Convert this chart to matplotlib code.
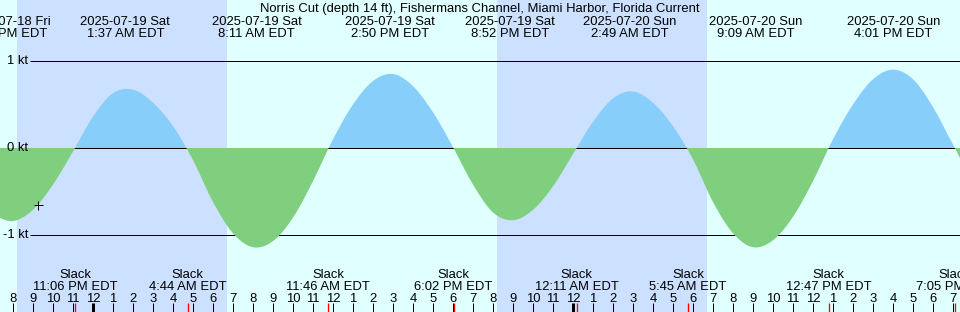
import numpy as np
import matplotlib
matplotlib.use("Agg")
import matplotlib.pyplot as plt
from matplotlib.transforms import blended_transform_factory
from datetime import datetime, timedelta

plt.rcParams['font.family'] = ['Liberation Sans', 'DejaVu Sans']

# ---------------- data ----------------
title = "Norris Cut (depth 14 ft), Fishermans Channel, Miami Harbor, Florida Current"

# hourly current speed readings (kt), first reading at speed_start
speed_start = "2025-07-18 19:00"
speed_kt = [-0.78, -0.84, -0.71, -0.42, -0.04, 0.36, 0.63, 0.67, 0.52, 0.25,
            -0.14, -0.62, -0.98, -1.14, -1.07, -0.80, -0.38, 0.10, 0.50, 0.77,
            0.85, 0.71, 0.41, 0.01, -0.42, -0.74, -0.83, -0.71, -0.44, -0.07,
            0.30, 0.57, 0.65, 0.52, 0.25, -0.13, -0.62, -0.98, -1.14, -1.06,
            -0.79, -0.38, 0.10, 0.50, 0.79, 0.90, 0.79, 0.47, 0.04, -0.35]

max_times = ["2025-07-18 19:46", "2025-07-19 01:37", "2025-07-19 08:11",
             "2025-07-19 14:50", "2025-07-19 20:52", "2025-07-20 02:49",
             "2025-07-20 09:09", "2025-07-20 16:01"]
slack_times = ["2025-07-18 23:06", "2025-07-19 04:44", "2025-07-19 11:46",
               "2025-07-19 18:02", "2025-07-20 00:11", "2025-07-20 05:45",
               "2025-07-20 12:47", "2025-07-20 19:05"]
night_start = ["2025-07-18 20:12", "2025-07-19 20:12"]
night_end = ["2025-07-19 06:42", "2025-07-20 06:42"]

now_time = "2025-07-18 21:15"
now_speed = -0.66

ref_levels = [1, 0, -1]
ref_labels = ["1 kt", "0 kt", "-1 kt"]

first_hour = "2025-07-18 20:00"
n_hours = 48

view_start = "2025-07-18 19:21"
view_end = "2025-07-20 19:21"

# ---------------- style ----------------
DAY = "#e0ffff"
NIGHT = "#cce0ff"
FLOOD = "#87cefa"
EBB = "#7fcf7f"
FS = 9.4
PX = 0.72  # one pixel in points at 100 dpi

fmt = "%Y-%m-%d %H:%M"
T0 = datetime.strptime(first_hour, fmt)


def hrs(s):
    return (datetime.strptime(s, fmt) - T0).total_seconds() / 3600.0


def tstr(s):
    d = datetime.strptime(s, fmt)
    h = d.hour % 12
    if h == 0:
        h = 12
    return "%d:%02d %s EDT" % (h, d.minute, "AM" if d.hour < 12 else "PM")


def dstr(s):
    d = datetime.strptime(s, fmt)
    return d.strftime("%Y-%m-%d %a")


W, H = 960, 312
fig = plt.figure(figsize=(W / 100, H / 100), dpi=100)
ax = fig.add_axes([0, 0, 1, 1])
ax.set_axis_off()
ax.set_xlim(hrs(view_start), hrs(view_end))
y_top, y_bot = (148 - 0) / 87.0, (148 - 312) / 87.0
ax.set_ylim(y_bot, y_top)
fig.patch.set_facecolor(DAY)
ax.set_facecolor(DAY)


def ypx(p):
    # axes fraction for pixel row p from top
    return 1 - p / H


bt = blended_transform_factory(ax.transData, ax.transAxes)

# night shading
for a, b in zip(night_start, night_end):
    ax.axvspan(hrs(a), hrs(b), color=NIGHT, lw=0, zorder=0)

# reference lines and labels
x_line_start = hrs(view_start) + 30 / 20.0
for lev, lab in zip(ref_levels, ref_labels):
    ax.plot([x_line_start, hrs(view_end)], [lev, lev], color="black",
            lw=PX, zorder=1, solid_capstyle="butt")
    ax.text(hrs(view_start) + 28 / 20.0, lev, lab, fontsize=FS,
            ha="right", va="center", zorder=5)

# smooth curve through hourly readings (Catmull-Rom)
t0 = hrs(speed_start)
p = np.array(speed_kt, dtype=float)
tp = t0 + np.arange(len(p))
pp = np.concatenate([[p[0]], p, [p[-1]]])
xs, ys = [], []
s = np.linspace(0, 1, 21)[:-1]
for i in range(len(p) - 1):
    p0, p1, p2, p3 = pp[i], pp[i + 1], pp[i + 2], pp[i + 3]
    y = 0.5 * (2 * p1 + (-p0 + p2) * s + (2 * p0 - 5 * p1 + 4 * p2 - p3) * s ** 2
               + (-p0 + 3 * p1 - 3 * p2 + p3) * s ** 3)
    xs.append(tp[i] + s)
    ys.append(y)
xs.append([tp[-1]])
ys.append([p[-1]])
xs = np.concatenate(xs)
ys = np.concatenate(ys)

ax.fill_between(xs, ys, 0, where=ys >= 0, interpolate=True, color=FLOOD,
                lw=0, zorder=2)
ax.fill_between(xs, ys, 0, where=ys <= 0, interpolate=True, color=EBB,
                lw=0, zorder=2)

# now marker
ax.plot([hrs(now_time)], [now_speed], marker="+", color="black",
        markersize=9 * PX, mew=PX, zorder=6)

# title
ax.text(0.5, ypx(12), title, transform=ax.transAxes, fontsize=FS,
        ha="center", va="baseline", zorder=7)

# max current labels (top)
for m in max_times:
    x = hrs(m)
    ax.text(x, ypx(25), dstr(m), transform=bt, fontsize=FS, ha="center",
            va="baseline", zorder=7)
    ax.text(x, ypx(37), tstr(m), transform=bt, fontsize=FS, ha="center",
            va="baseline", zorder=7)

# slack labels (bottom)
for sl in slack_times:
    x = hrs(sl)
    ax.text(x, ypx(278), "Slack", transform=bt, fontsize=FS, ha="center",
            va="baseline", zorder=7)
    ax.text(x, ypx(290), tstr(sl), transform=bt, fontsize=FS, ha="center",
            va="baseline", zorder=7)
    ax.plot([x, x], [ypx(303), ypx(312)], transform=bt, color="red",
            lw=1.3 * PX, zorder=8, solid_capstyle="butt")

# hour ticks
for k in range(n_hours):
    d = T0 + timedelta(hours=k)
    h = d.hour % 12
    if h == 0:
        h = 12
    x = float(k)
    ax.text(x, ypx(302), str(h), transform=bt, fontsize=FS, ha="center",
            va="baseline", zorder=7)
    lw = 3 * PX if d.hour == 0 else PX
    ax.plot([x, x], [ypx(303), ypx(312)], transform=bt, color="black",
            lw=lw, zorder=7, solid_capstyle="butt")

fig.savefig("out.png", dpi=100, facecolor=DAY)
